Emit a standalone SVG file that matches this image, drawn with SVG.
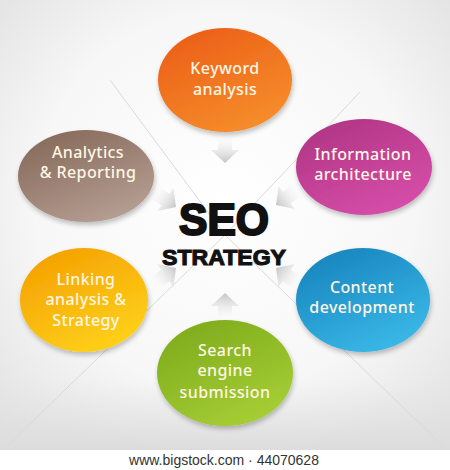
<svg xmlns="http://www.w3.org/2000/svg" width="450" height="470" viewBox="0 0 450 470">
<style>
.lbl{font-family:"Noto Sans","DejaVu Sans",sans-serif;font-size:16px;font-weight:500;fill:#fff6e4;text-anchor:middle;letter-spacing:0.4px}
.ray{stroke:#dadada;stroke-width:1;fill:none}
.arr{fill:url(#arrG)}
.ctr{font-family:"Liberation Sans","DejaVu Sans",sans-serif;font-weight:900;fill:#111;stroke:#111;text-anchor:middle}
</style>
<defs>
<radialGradient id="bg" cx="0.5" cy="0.45" r="0.7">
<stop offset="0" stop-color="#ffffff"/>
<stop offset="0.6" stop-color="#f7f7f7"/>
<stop offset="1" stop-color="#e2e2e2"/>
</radialGradient>
<linearGradient id="floor" x1="0" y1="0" x2="0" y2="1">
<stop offset="0" stop-color="#e4e4e4" stop-opacity="0"/>
<stop offset="1" stop-color="#dcdcdc" stop-opacity="1"/>
</linearGradient>
<linearGradient id="arrG" x1="0" y1="0" x2="0" y2="1">
<stop offset="0" stop-color="#ffffff" stop-opacity="0"/>
<stop offset="1" stop-color="#c4c4c4"/>
</linearGradient>
<linearGradient id="gOr" x1="0.2" y1="0" x2="0.8" y2="1">
<stop offset="0" stop-color="#ec5e17"/>
<stop offset="1" stop-color="#f6902c"/>
</linearGradient>
<linearGradient id="gBr" x1="0.2" y1="0" x2="0.8" y2="1">
<stop offset="0" stop-color="#86695a"/>
<stop offset="1" stop-color="#b7a195"/>
</linearGradient>
<linearGradient id="gMg" x1="0.2" y1="0" x2="0.8" y2="1">
<stop offset="0" stop-color="#b03584"/>
<stop offset="1" stop-color="#d84fab"/>
</linearGradient>
<linearGradient id="gYe" x1="0.2" y1="0" x2="0.8" y2="1">
<stop offset="0" stop-color="#f4a000"/>
<stop offset="1" stop-color="#ffd41c"/>
</linearGradient>
<linearGradient id="gBl" x1="0.2" y1="0" x2="0.8" y2="1">
<stop offset="0" stop-color="#1784bd"/>
<stop offset="1" stop-color="#3cbbea"/>
</linearGradient>
<linearGradient id="gGr" x1="0.2" y1="0" x2="0.8" y2="1">
<stop offset="0" stop-color="#7eab1c"/>
<stop offset="1" stop-color="#a8d036"/>
</linearGradient>
<filter id="sh" x="-20%" y="-20%" width="140%" height="150%">
<feGaussianBlur in="SourceAlpha" stdDeviation="2.5"/>
<feOffset dx="1" dy="3" result="b"/>
<feComponentTransfer><feFuncA type="linear" slope="0.25"/></feComponentTransfer>
<feMerge><feMergeNode/><feMergeNode in="SourceGraphic"/></feMerge>
</filter>
<path id="arrow" d="M-7,-30 L7,-30 L7,-13 L14,-13 L0,0 L-14,-13 L-7,-13 Z"/>
</defs>

<rect x="0" y="0" width="450" height="450" fill="url(#bg)"/>
<rect x="0" y="380" width="450" height="70" fill="url(#floor)"/>
<rect x="0" y="450" width="450" height="20" fill="#ffffff"/>

<g id="connectors">
<line class="ray" x1="110" y1="80" x2="225" y2="235"/>
<line class="ray" x1="360" y1="92" x2="225" y2="235"/>
<line class="ray" x1="3" y1="450" x2="225" y2="235"/>
<line class="ray" x1="447" y1="450" x2="225" y2="235"/>
<use href="#arrow" class="arr" transform="translate(225,163)"/>
<use href="#arrow" class="arr" transform="translate(225,293) rotate(180)"/>
<use href="#arrow" class="arr" transform="translate(176,207) rotate(-55)"/>
<use href="#arrow" class="arr" transform="translate(276,205) rotate(55)"/>
<use href="#arrow" class="arr" transform="translate(176,268) rotate(-125)"/>
<use href="#arrow" class="arr" transform="translate(276,268) rotate(125)"/>
</g>

<g id="center">
<text class="ctr" x="224" y="235" font-size="44" stroke-width="2.2" textLength="90" lengthAdjust="spacingAndGlyphs">SEO</text>
<text class="ctr" x="224" y="265" font-size="22" stroke-width="1.1" textLength="124" lengthAdjust="spacingAndGlyphs">STRATEGY</text>
</g>

<g id="keyword">
<ellipse cx="225" cy="80" rx="67" ry="52" fill="url(#gOr)" filter="url(#sh)"/>
<text class="lbl" x="225" y="74">Keyword</text>
<text class="lbl" x="225" y="95">analysis</text>
</g>

<g id="analytics">
<ellipse cx="86" cy="176" rx="68" ry="46" fill="url(#gBr)" filter="url(#sh)"/>
<text class="lbl" x="88" y="158">Analytics</text>
<text class="lbl" x="88" y="178">&amp; Reporting</text>
</g>

<g id="information">
<ellipse cx="364" cy="167" rx="68" ry="48" fill="url(#gMg)" filter="url(#sh)"/>
<text class="lbl" x="363" y="160">Information</text>
<text class="lbl" x="363" y="180">architecture</text>
</g>

<g id="linking">
<ellipse cx="84" cy="300" rx="64" ry="52" fill="url(#gYe)" filter="url(#sh)"/>
<text class="lbl" x="86" y="285">Linking</text>
<text class="lbl" x="86" y="305">analysis &amp;</text>
<text class="lbl" x="86" y="326">Strategy</text>
</g>

<g id="content">
<ellipse cx="363" cy="300" rx="67" ry="52" fill="url(#gBl)" filter="url(#sh)"/>
<text class="lbl" x="362" y="293">Content</text>
<text class="lbl" x="362" y="313">development</text>
</g>

<g id="search">
<ellipse cx="225" cy="373" rx="68" ry="53" fill="url(#gGr)" filter="url(#sh)"/>
<text class="lbl" x="225" y="356">Search</text>
<text class="lbl" x="225" y="376">engine</text>
<text class="lbl" x="225" y="398">submission</text>
</g>

<text x="224" y="465" font-family="'Liberation Sans',Arial,sans-serif" font-size="14" fill="#333" text-anchor="middle">www.bigstock.com · 44070628</text>
</svg>
